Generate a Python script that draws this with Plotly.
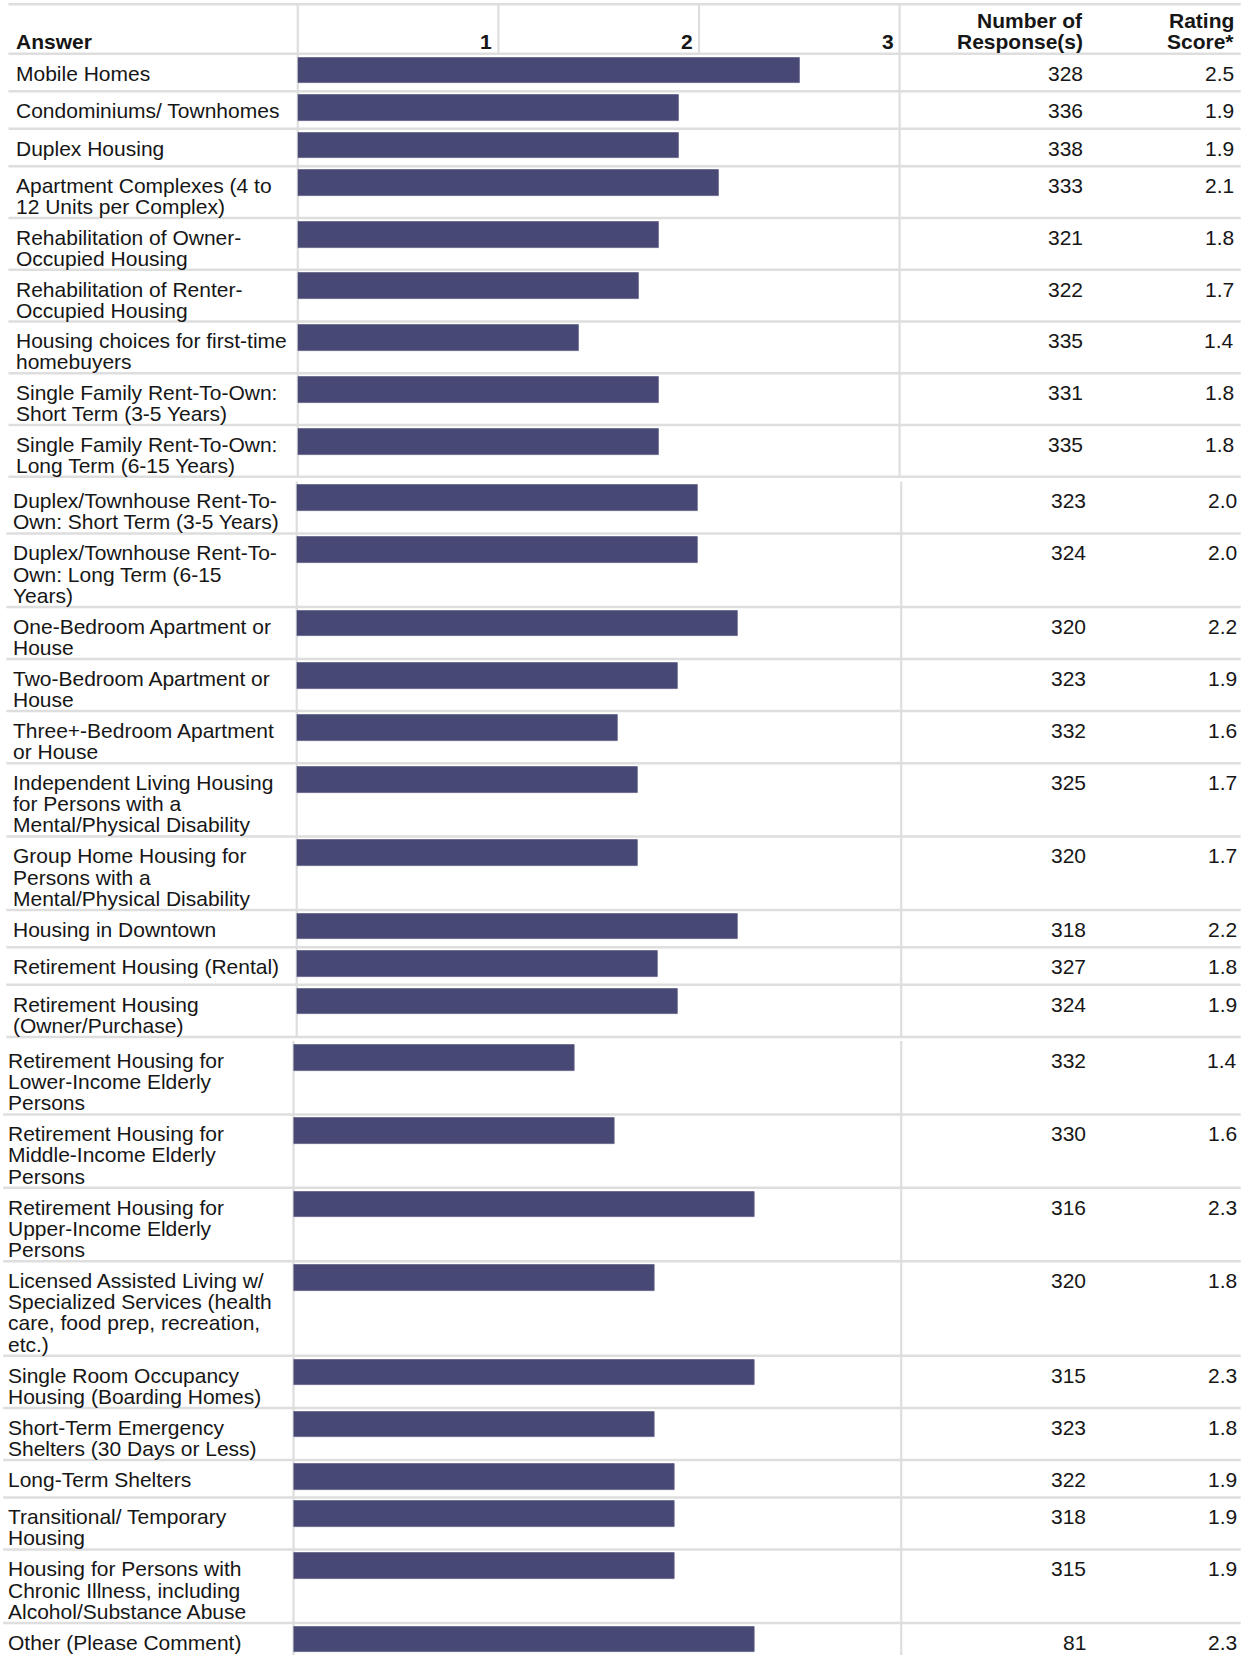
import plotly.graph_objects as go

# ---- survey results -------------------------------------------------------
# answer labels, wrapped the way they break in the Answer column
answers = [
    "Mobile Homes",
    "Condominiums/ Townhomes",
    "Duplex Housing",
    "Apartment Complexes (4 to<br>12 Units per Complex)",
    "Rehabilitation of Owner-<br>Occupied Housing",
    "Rehabilitation of Renter-<br>Occupied Housing",
    "Housing choices for first-time<br>homebuyers",
    "Single Family Rent-To-Own:<br>Short Term (3-5 Years)",
    "Single Family Rent-To-Own:<br>Long Term (6-15 Years)",
    "Duplex/Townhouse Rent-To-<br>Own: Short Term (3-5 Years)",
    "Duplex/Townhouse Rent-To-<br>Own: Long Term (6-15<br>Years)",
    "One-Bedroom Apartment or<br>House",
    "Two-Bedroom Apartment or<br>House",
    "Three+-Bedroom Apartment<br>or House",
    "Independent Living Housing<br>for Persons with a<br>Mental/Physical Disability",
    "Group Home Housing for<br>Persons with a<br>Mental/Physical Disability",
    "Housing in Downtown",
    "Retirement Housing (Rental)",
    "Retirement Housing<br>(Owner/Purchase)",
    "Retirement Housing for<br>Lower-Income Elderly<br>Persons",
    "Retirement Housing for<br>Middle-Income Elderly<br>Persons",
    "Retirement Housing for<br>Upper-Income Elderly<br>Persons",
    "Licensed Assisted Living w/<br>Specialized Services (health<br>care, food prep, recreation,<br>etc.)",
    "Single Room Occupancy<br>Housing (Boarding Homes)",
    "Short-Term Emergency<br>Shelters (30 Days or Less)",
    "Long-Term Shelters",
    "Transitional/ Temporary<br>Housing",
    "Housing for Persons with<br>Chronic Illness, including<br>Alcohol/Substance Abuse",
    "Other (Please Comment)",
]
responses = [328, 336, 338, 333, 321, 322, 335, 331, 335,
             323, 324, 320, 323, 332, 325, 320, 318, 327, 324,
             332, 330, 316, 320, 315, 323, 322, 318, 315, 81]
scores = [2.5, 1.9, 1.9, 2.1, 1.8, 1.7, 1.4, 1.8, 1.8,
          2.0, 2.0, 2.2, 1.9, 1.6, 1.7, 1.7, 2.2, 1.8, 1.9,
          1.4, 1.6, 2.3, 1.8, 2.3, 1.8, 1.9, 1.9, 1.9, 2.3]
scale_ticks = [1, 2, 3]
rows_per_page = [9, 10, 10]

# ---- geometry --------------------------------------------------------------
W, H = 1247, 1655
PAGE_W = 1181.0            # layout units across the page
U = W / PAGE_W             # pixels per layout unit
PAGE_H = H / U

STEP = 190.0               # layout units per rating point
RULE_X1 = 1175.0
ONE_LINE_ROW = 35.5
ROW_PAD = 9.0
TEXT_OFFSET = 18.2
BAR_TOP = 3.5
BAR_THICK = 24.5

pages = [
    dict(top=51.0, line=20.0, origin=282.0, text_x=14.0, rule_x0=8.0,
         right=852.0, num_x=1027.0, score_x=1170.0, border_top=4.0),
    dict(top=456.0, line=20.16, origin=281.0, text_x=11.0, rule_x0=6.0,
         right=853.5, num_x=1029.0, score_x=1172.5, border_top=456.0),
    dict(top=986.0, line=20.16, origin=278.0, text_x=7.0, rule_x0=3.0,
         right=853.5, num_x=1029.0, score_x=1172.5, border_top=986.0),
]

LINE_COLOR = "#dedede"
TEXT_COLOR = "#161616"
BAR_COLOR = "#474873"
FONT = "Liberation Sans, Arial, Helvetica, sans-serif"
FS = 21

shapes = []
annotations = []


def pf(u):
    return u / PAGE_W


def hline(x0, x1, y):
    shapes.append(dict(type="line", xref="paper", yref="y",
                       x0=pf(x0), x1=pf(x1), y0=y, y1=y,
                       line=dict(color=LINE_COLOR, width=2.5), layer="below"))


def vline(x, y0, y1, xref="paper"):
    xv = pf(x) if xref == "paper" else x
    shapes.append(dict(type="line", xref=xref, yref="y",
                       x0=xv, x1=xv, y0=y0, y1=y1,
                       line=dict(color=LINE_COLOR, width=2.2), layer="below"))


def text(x, y, s, anchor="left", bold=False, xref="paper", xshift=0):
    annotations.append(dict(
        xref=xref, yref="y", x=pf(x) if xref == "paper" else x, y=y,
        text=f"<b>{s}</b>" if bold else s, showarrow=False,
        xanchor=anchor, yanchor="middle", xshift=xshift, borderpad=0,
        font=dict(family=FONT, size=FS, color=TEXT_COLOR)))


# ---- header ---------------------------------------------------------------
hline(8, RULE_X1, 4)
hline(8, RULE_X1, 51)
text(14, 39.5, "Answer", bold=True)
for t in scale_ticks:
    if t < scale_ticks[-1]:
        vline(t, 4, 51, xref="x")
    text(t, 39.5, str(t), anchor="right", bold=True, xref="x", xshift=-5)
text(1027, 19.5, "Number of", anchor="right", bold=True)
text(1027, 39.5, "Response(s)", anchor="right", bold=True)
text(1170, 19.5, "Rating", anchor="right", bold=True)
text(1170, 39.5, "Score*", anchor="right", bold=True)

# ---- body, one table block per page ---------------------------------------
fig = go.Figure()
start = 0
axis_names = ["x", "x2", "x3"]
for p, count, ax in zip(pages, rows_per_page, axis_names):
    idx = range(start, start + count)
    start += count
    cursor = p["top"]
    centers = []
    for i in idx:
        lines = answers[i].split("<br>")
        n = len(lines)
        h = ONE_LINE_ROW if n == 1 else ROW_PAD + p["line"] * n
        for k, ln in enumerate(lines):
            text(p["text_x"], cursor + TEXT_OFFSET + k * p["line"], ln)
        text(p["num_x"], cursor + TEXT_OFFSET, str(responses[i]), anchor="right")
        text(p["score_x"], cursor + TEXT_OFFSET, f"{scores[i]:.1f}", anchor="right")
        centers.append(cursor + BAR_TOP + BAR_THICK / 2)
        cursor += h
        hline(p["rule_x0"], RULE_X1, cursor)
    # column borders of this block
    vline(p["origin"], p["border_top"], cursor)
    vline(p["right"], p["border_top"], cursor)

    fig.add_trace(go.Bar(
        x=[scores[i] for i in idx], y=centers, base=0,
        orientation="h", width=BAR_THICK,
        marker=dict(color=BAR_COLOR, line=dict(color="#5d5e87", width=0.8)),
        xaxis=ax, yaxis="y", hoverinfo="skip", showlegend=False))

axis_common = dict(visible=False, fixedrange=True, range=[0, 3], anchor="y")
layout_axes = {}
for p, ax in zip(pages, axis_names):
    key = "xaxis" if ax == "x" else "xaxis" + ax[1:]
    layout_axes[key] = dict(axis_common,
                            domain=[pf(p["origin"]), pf(p["origin"] + 3 * STEP)])

fig.update_layout(
    width=W, height=H,
    margin=dict(l=0, r=0, t=0, b=0),
    paper_bgcolor="white", plot_bgcolor="rgba(0,0,0,0)",
    yaxis=dict(visible=False, fixedrange=True, range=[PAGE_H, 0],
               domain=[0, 1], anchor="x"),
    shapes=shapes, annotations=annotations,
    bargap=0, barmode="overlay",
    **layout_axes,
)

fig.write_html("out.html", config={"displayModeBar": False})
